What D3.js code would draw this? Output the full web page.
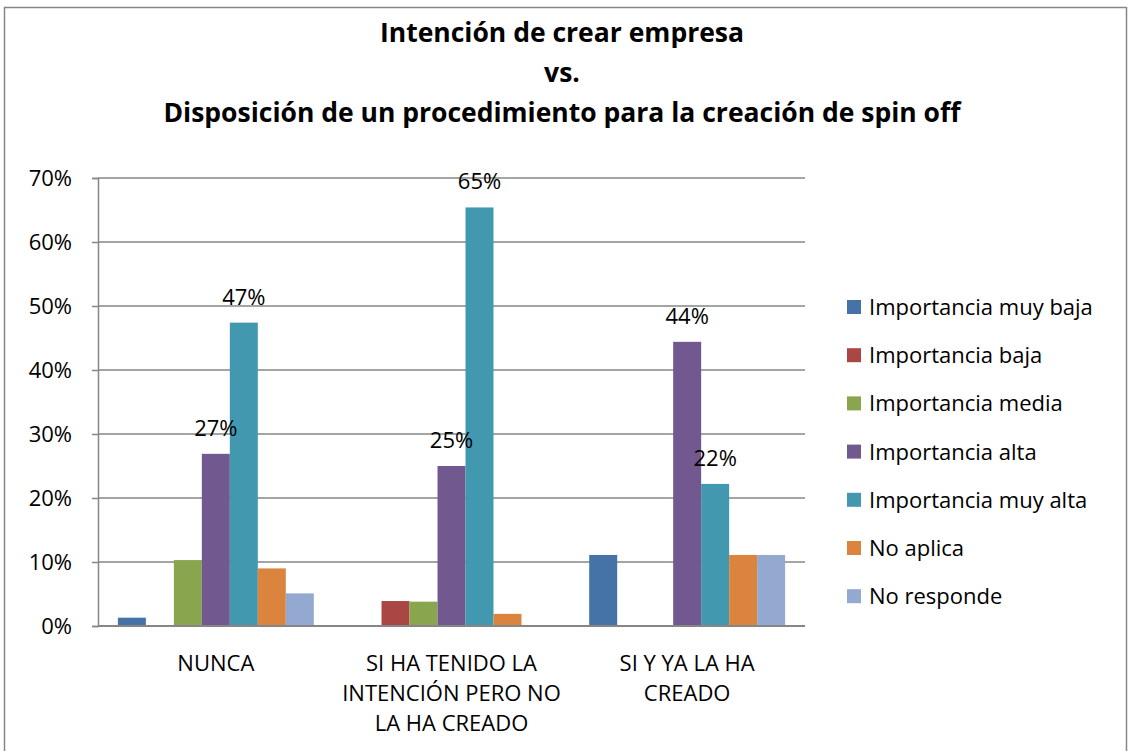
<!DOCTYPE html>
<html>
<head>
<meta charset="utf-8">
<script src="https://cdn.jsdelivr.net/npm/d3@7"></script>
<style>
  body { margin: 0; background: #fff; }
  text { font-family: "Open Sans", sans-serif; fill: #000; }
</style>
</head>
<body>
<div id="chart-area"></div>
<script>
// DATA
var categories = ["NUNCA", "SI HA TENIDO LA INTENCIÓN PERO NO LA HA CREADO", "SI Y YA LA HA CREADO"];
var categoryLines = [["NUNCA"], ["SI HA TENIDO LA", "INTENCIÓN PERO NO", "LA HA CREADO"], ["SI Y YA LA HA", "CREADO"]];
var seriesNames = ["Importancia muy baja", "Importancia baja", "Importancia media",
    "Importancia alta", "Importancia muy alta", "No aplica", "No responde"];
var muyBaja  = [0.013, 0, 0.111];
var baja     = [0, 0.039, 0];
var media    = [0.103, 0.038, 0];
var alta     = [0.269, 0.25, 0.444];
var muyAlta  = [0.474, 0.654, 0.222];
var noAplica = [0.090, 0.019, 0.111];
var noResp   = [0.051, 0, 0.111];
var labelled = ["Importancia alta", "Importancia muy alta"];
var yTicks = [0, 0.1, 0.2, 0.3, 0.4, 0.5, 0.6, 0.7];

var colors = ["#4572A7", "#AA4643", "#89A54E", "#71588F", "#4198AF", "#DB843D", "#93A9CF"];
var seriesValues = [muyBaja, baja, media, alta, muyAlta, noAplica, noResp];

var W = 1131, H = 751;
var margin = { left: 98, right: 326, top: 178, bottom: 125 };
var width = W - margin.left - margin.right,
    height = H - margin.top - margin.bottom;

var svg = d3.select("#chart-area").append("svg")
    .attr("width", W)
    .attr("height", H);

// chart border
svg.append("rect")
    .attr("x", 4.5).attr("y", 7.5)
    .attr("width", 1122).attr("height", 760)
    .attr("fill", "none")
    .attr("stroke", "#868686")
    .attr("stroke-width", 1.5);

// Title
var titleLines = ["Intención de crear empresa", "vs.", "Disposición de un procedimiento para la creación de spin off"];
svg.selectAll(".title").data(titleLines).enter().append("text")
    .attr("class", "title")
    .attr("x", 562)
    .attr("y", (d, i) => 42 + i * 40)
    .attr("text-anchor", "middle")
    .style("font-size", "26.5px")
    .style("font-weight", "bold")
    .text(d => d);

var g = svg.append("g")
    .attr("transform", "translate(" + margin.left + "," + margin.top + ")");

// Scales
var x0 = d3.scaleBand().domain(categories).range([0, width]).paddingInner(0).paddingOuter(0);
var x1 = d3.scaleBand().domain(seriesNames).range([0, x0.bandwidth()]).paddingInner(0).paddingOuter(0.71);
var y = d3.scaleLinear().domain([0, 0.7]).range([height, 0]);

// Gridlines
g.selectAll(".grid").data(yTicks.slice(1)).enter().append("line")
    .attr("x1", 0).attr("x2", width)
    .attr("y1", d => y(d)).attr("y2", d => y(d))
    .attr("stroke", "#868686")
    .attr("stroke-width", 1.5);

// Y axis
var yAxis = g.append("g")
    .call(d3.axisLeft(y).tickValues(yTicks).tickFormat(d3.format(".0%")).tickSize(6).tickPadding(20));
yAxis.select(".domain").attr("stroke", "#868686").attr("stroke-width", 1.5);
yAxis.selectAll(".tick line").attr("stroke", "#868686").attr("stroke-width", 1.5);
yAxis.selectAll(".tick text")
    .style("font-family", "'Open Sans', sans-serif")
    .style("font-size", "22px")
    .attr("fill", "#000");

// Bars
var rows = [];
seriesNames.forEach((s, si) => {
    categories.forEach((c, ci) => {
        rows.push({ series: s, cat: c, value: seriesValues[si][ci], color: colors[si] });
    });
});

g.selectAll(".bar").data(rows.filter(d => d.value > 0)).enter().append("rect")
    .attr("class", "bar")
    .attr("x", d => x0(d.cat) + x1(d.series))
    .attr("y", d => y(d.value))
    .attr("width", x1.bandwidth())
    .attr("height", d => height - y(d.value))
    .attr("fill", d => d.color);

// Data labels
g.selectAll(".lbl").data(rows.filter(d => labelled.includes(d.series))).enter().append("text")
    .attr("class", "lbl")
    .attr("x", d => x0(d.cat) + x1(d.series) + x1.bandwidth() / 2)
    .attr("y", d => y(d.value) - 18)
    .attr("text-anchor", "middle")
    .style("font-size", "22px")
    .text(d => Math.round(d.value * 100) + "%");

// X axis
g.append("line")
    .attr("x1", 0).attr("x2", width)
    .attr("y1", height).attr("y2", height)
    .attr("stroke", "#868686")
    .attr("stroke-width", 2);

categories.forEach((c, ci) => {
    g.append("text")
        .attr("x", x0(c) + x0.bandwidth() / 2)
        .attr("text-anchor", "middle")
        .style("font-size", "22px")
        .selectAll("tspan").data(categoryLines[ci]).enter().append("tspan")
        .attr("x", x0(c) + x0.bandwidth() / 2)
        .attr("y", (d, i) => height + 45 + i * 30)
        .text(d => d);
});

// Legend
var legend = svg.append("g").attr("transform", "translate(847,300)");
var li = legend.selectAll(".li").data(seriesNames).enter().append("g")
    .attr("transform", (d, i) => "translate(0," + i * 48.2 + ")");
li.append("rect")
    .attr("width", 14).attr("height", 14)
    .attr("fill", (d, i) => colors[i]);
li.append("text")
    .attr("x", 22).attr("y", 15)
    .style("font-size", "22px")
    .text(d => d);
</script>
</body>
</html>
